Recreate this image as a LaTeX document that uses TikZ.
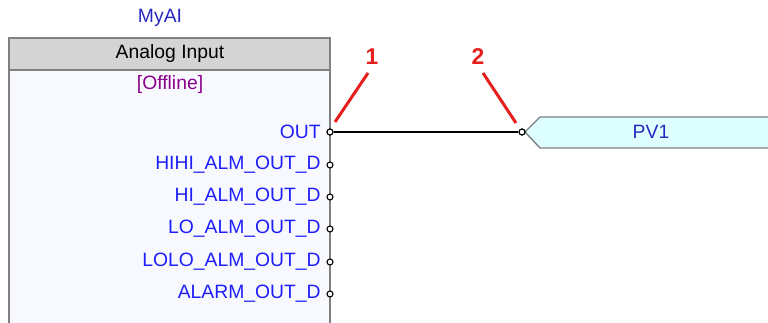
\documentclass[tikz,border=0pt]{standalone}
\usepackage{fontspec}
\setmainfont{Liberation Sans}
\definecolor{portblue}{RGB}{30,30,250}
\definecolor{nameblue}{RGB}{40,40,190}
\definecolor{offpurple}{RGB}{140,0,140}
\definecolor{headgray}{RGB}{212,212,212}
\definecolor{bodywhite}{RGB}{248,248,255}
\definecolor{tagcyan}{RGB}{222,255,255}
\definecolor{markred}{RGB}{230,30,30}
\tikzset{
  port/.style={circle,draw=black,fill=white,inner sep=0pt,minimum size=0.12cm,line width=0.6pt},
  portlabel/.style={anchor=east,text=portblue,inner sep=0pt,font=\fontsize{11}{13}\selectfont},
  marklabel/.style={text=markred,inner sep=0pt,font=\bfseries\fontsize{13}{15}\selectfont},
  markline/.style={draw=markred,line width=1.7pt}
}
\begin{document}
\begin{tikzpicture}[x=0.02cm,y=-0.02cm]
\useasboundingbox (0,0) rectangle (768,323);
% function block
\fill[bodywhite] (9,38) rectangle (330,323);
\fill[headgray] (9,38) rectangle (330,70);
\draw[gray,line width=0.8pt] (9,323) -- (9,38) -- (330,38) -- (330,323);
\draw[gray,line width=0.8pt] (9,70) -- (330,70);
\node[text=nameblue,font=\fontsize{11}{13}\selectfont] (name) at (160,18) {MyAI};
\node[font=\fontsize{11}{13}\selectfont] (type) at (170,54) {Analog Input};
\node[text=offpurple,font=\fontsize{11}{13}\selectfont] (mode) at (170,85) {[Offline]};
% outputs
\node[portlabel] (lout) at (321,132) {OUT};
\node[portlabel] (lhihi) at (321,165) {HIHI\_ALM\_OUT\_D};
\node[portlabel] (lhi) at (321,197) {HI\_ALM\_OUT\_D};
\node[portlabel] (llo) at (321,229) {LO\_ALM\_OUT\_D};
\node[portlabel] (llolo) at (321,262) {LOLO\_ALM\_OUT\_D};
\node[portlabel] (lalarm) at (321,294) {ALARM\_OUT\_D};
% output tag
\fill[tagcyan] (525,132) -- (540,117) -- (768,117) -- (768,148) -- (540,148) -- cycle;
\draw[gray,line width=0.8pt] (768,117) -- (540,117) -- (525,132) -- (540,148) -- (768,148);
\node[text=nameblue,font=\fontsize{11}{13}\selectfont] (tag) at (651,132) {PV1};
% wire
\node[port] (pout) at (330,132) {};
\node[port] (pin) at (522,132) {};
\draw[line width=1.6pt] (pout) -- (pin);
\node[port] at (330,132) {};
\node[port] at (522,132) {};
\node[port] (phihi) at (330,165) {};
\node[port] (phi) at (330,197) {};
\node[port] (plo) at (330,229) {};
\node[port] (plolo) at (330,262) {};
\node[port] (palarm) at (330,294) {};
% markers
\node[marklabel] (m1) at (372,57) {1};
\node[marklabel] (m2) at (478,57) {2};
\coordinate (m1top) at (368,73);
\coordinate (m1end) at (335,122);
\coordinate (m2top) at (483,73);
\coordinate (m2end) at (516,123);
\draw[markline] (m1top) -- (m1end);
\draw[markline] (m2top) -- (m2end);
\end{tikzpicture}
\end{document}
